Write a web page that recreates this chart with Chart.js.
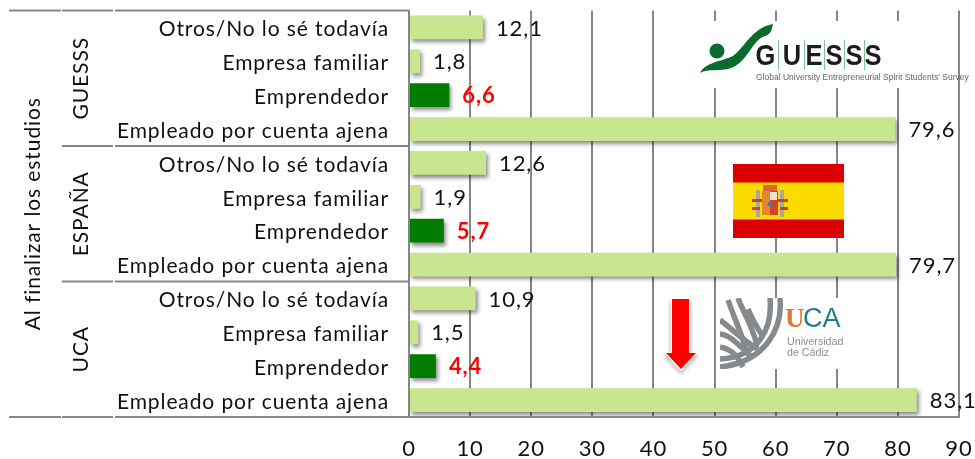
<!DOCTYPE html>
<html>
<head>
<meta charset="utf-8">
<title>Al finalizar los estudios</title>
<script src="https://cdn.jsdelivr.net/npm/chart.js@4"></script>
<style>
    html, body { margin: 0; padding: 0; background: #fff; }
    canvas { display: block; }
</style>
</head>
<body>
<canvas id="grafico" width="975" height="459"></canvas>
<script>
// Datos
const opciones = ['Otros/No lo sé todavía', 'Empresa familiar', 'Emprendedor', 'Empleado por cuenta ajena'];
const grupos = ['GUESSS', 'ESPAÑA', 'UCA'];
const valoresGuesss = [12.1, 1.8, 6.6, 79.6];
const valoresEspana = [12.6, 1.9, 5.7, 79.7];
const valoresUca = [10.9, 1.5, 4.4, 83.1];
const ticksX = [0, 10, 20, 30, 40, 50, 60, 70, 80, 90];
const tituloLateral = 'Al finalizar los estudios';

const categorias = [...opciones, ...opciones, ...opciones];
const valores = [...valoresGuesss, ...valoresEspana, ...valoresUca];

const GRIS = '#868686';
const FUENTE = 'Lato, "Open Sans", sans-serif';
const ESPACIADO = '0.9px';

const esDestacado = (i) => categorias[i] === 'Emprendedor';
const coma = (v) => v.toFixed(1).replace('.', ',');

// Letra espaciada, la fuente original es mas ancha
const espaciado = {
    id: 'espaciado',
    beforeDraw: (chart) => { chart.ctx.letterSpacing = ESPACIADO; }
};

// Sombra de las barras
const sombraBarras = {
    id: 'sombraBarras',
    beforeDatasetsDraw: (chart) => {
        const ctx = chart.ctx;
        ctx.save();
        ctx.shadowColor = 'rgba(0,0,0,0.45)';
        ctx.shadowBlur = 4;
        ctx.shadowOffsetX = 2;
        ctx.shadowOffsetY = 3;
    },
    afterDatasetsDraw: (chart) => chart.ctx.restore()
};

// Etiquetas de valor, a la derecha de cada barra
const etiquetasValor = {
    id: 'etiquetasValor',
    afterDatasetsDraw: (chart) => {
        const ctx = chart.ctx;
        const barras = chart.getDatasetMeta(0).data;
        ctx.save();
        ctx.textAlign = 'left';
        ctx.textBaseline = 'middle';
        barras.forEach((barra, i) => {
            const rojo = esDestacado(i);
            ctx.font = (rojo ? 'bold ' : '') + '22px ' + FUENTE;
            ctx.fillStyle = rojo ? '#ff0000' : '#111';
            ctx.fillText(coma(valores[i]), barra.x + 13, barra.y + 1);
        });
        ctx.restore();
    }
};

// Lineas de los grupos y textos girados de la izquierda
const ejeGrupos = {
    id: 'ejeGrupos',
    afterDraw: (chart) => {
        const ctx = chart.ctx;
        const y = chart.scales.y;
        const area = chart.chartArea;
        const porGrupo = opciones.length;
        ctx.save();
        ctx.strokeStyle = GRIS;
        ctx.lineWidth = 2;
        const linea = (x1, x2, yy) => {
            ctx.beginPath();
            ctx.moveTo(x1, yy);
            ctx.lineTo(x2, yy);
            ctx.stroke();
        };
        linea(9, 61, area.top);
        linea(62, 113, area.top);
        linea(115, area.left, area.top);
        linea(9, 61, area.bottom);
        linea(62, 113, area.bottom);
        linea(115, area.right, area.bottom);
        for (let g = 1; g < grupos.length; g++) {
            const yy = (y.getPixelForTick(g * porGrupo - 1) + y.getPixelForTick(g * porGrupo)) / 2;
            linea(62, 113, yy);
            linea(115, area.left, yy);
        }
        const girado = (texto, cx, cy) => {
            ctx.save();
            ctx.translate(cx, cy);
            ctx.rotate(-Math.PI / 2);
            ctx.textAlign = 'center';
            ctx.textBaseline = 'middle';
            ctx.fillStyle = '#111';
            ctx.font = '21px ' + FUENTE;
            ctx.fillText(texto, 0, 0);
            ctx.restore();
        };
        grupos.forEach((grupo, g) => {
            const cy = (y.getPixelForTick(g * porGrupo) + y.getPixelForTick(g * porGrupo + porGrupo - 1)) / 2;
            girado(grupo, 81, cy);
        });
        girado(tituloLateral, 33, (area.top + area.bottom) / 2);
        ctx.restore();
    }
};

function logoGuesss(ctx) {
    ctx.fillStyle = '#fff';
    ctx.fillRect(697, 21, 253, 67);
    ctx.fillStyle = '#0b6b2e';
    ctx.beginPath();
    ctx.arc(717, 51, 7.5, 0, Math.PI * 2);
    ctx.fill();
    ctx.beginPath();
    ctx.moveTo(700, 73);
    ctx.bezierCurveTo(706, 62, 720, 62, 733, 56);
    ctx.bezierCurveTo(746, 46, 752, 28, 773, 24);
    ctx.bezierCurveTo(772, 30, 770, 35, 765, 36);
    ctx.bezierCurveTo(752, 40, 748, 62, 731, 68);
    ctx.bezierCurveTo(720, 72, 708, 68, 700, 73);
    ctx.fill();
    // Letras en celdas con separador verde
    ctx.textAlign = 'center';
    ctx.textBaseline = 'middle';
    ctx.font = 'bold 30px "Liberation Sans"';
    ctx.letterSpacing = '0px';
    const centros = [765.5, 792, 814, 834, 854, 873];
    const separadores = [778, 804, 824, 844, 864];
    [...'GUESSS'].forEach((letra, i) => {
        ctx.save();
        ctx.translate(centros[i], 56.5);
        ctx.scale(0.85, 1);
        ctx.fillStyle = '#1c1c1c';
        ctx.fillText(letra, 0, 0);
        ctx.restore();
    });
    ctx.fillStyle = '#7fc39a';
    separadores.forEach((x) => ctx.fillRect(x, 40, 1, 30));
    ctx.textAlign = 'left';
    ctx.fillStyle = '#666';
    ctx.font = '8.5px "Liberation Sans"';
    ctx.fillText("Global University Entrepreneurial Spirit Students' Survey", 756, 78);
}

function bandera(ctx) {
    ctx.fillStyle = '#dc0000';
    ctx.fillRect(733, 164, 111, 74);
    ctx.fillStyle = '#fcdc00';
    ctx.fillRect(733, 182.5, 111, 37);
    // Escudo simplificado
    ctx.fillStyle = '#a9a9a0';
    ctx.fillRect(756, 190, 4, 27);
    ctx.fillRect(780, 190, 4, 27);
    ctx.fillStyle = '#c8402a';
    ctx.fillRect(752, 199, 10, 3);
    ctx.fillRect(778, 199, 10, 3);
    ctx.fillRect(752, 207, 8, 3);
    ctx.fillRect(780, 207, 8, 3);
    ctx.fillStyle = '#d9682a';
    ctx.fillRect(763, 185, 14, 6);
    ctx.fillStyle = '#e2872a';
    ctx.fillRect(762, 191, 8, 24);
    ctx.fillStyle = '#d6402c';
    ctx.fillRect(770, 191, 8, 24);
    ctx.fillStyle = '#e8e2d6';
    ctx.fillRect(770, 192, 7, 8);
    ctx.fillStyle = '#4c7f8c';
    ctx.beginPath();
    ctx.arc(770, 204, 2.5, 0, Math.PI * 2);
    ctx.fill();
}

function flecha(ctx) {
    ctx.save();
    ctx.shadowColor = 'rgba(0,0,0,0.45)';
    ctx.shadowBlur = 4;
    ctx.shadowOffsetY = 3;
    ctx.fillStyle = '#ff0000';
    ctx.strokeStyle = '#fff';
    ctx.lineWidth = 2;
    ctx.beginPath();
    ctx.moveTo(672, 299);
    ctx.lineTo(689, 299);
    ctx.lineTo(689, 353);
    ctx.lineTo(696, 353);
    ctx.lineTo(681, 369);
    ctx.lineTo(666, 353);
    ctx.lineTo(672, 353);
    ctx.closePath();
    ctx.stroke();
    ctx.shadowColor = 'transparent';
    ctx.fill();
    ctx.restore();
}

function logoUca(ctx) {
    ctx.fillStyle = '#fff';
    ctx.fillRect(720, 298, 124, 71);
    ctx.save();
    ctx.beginPath();
    ctx.rect(720, 298, 66, 71);
    ctx.clip();
    ctx.strokeStyle = '#868a8d';
    ctx.lineWidth = 5.5;
    const curvas = [
        [780, 298, 783, 329, 765, 362, 720, 367],
        [770, 298, 773, 329, 758, 357, 720, 359],
        [738, 298, 743, 312, 752, 325, 757, 345],
        [748, 309, 752, 319, 758, 329, 762, 335],
        [728, 300, 733, 315, 740, 329, 748, 355],
        [720, 320, 732, 329, 745, 342, 758, 349],
        [720, 334, 732, 335, 742, 349, 752, 357],
        [720, 347, 732, 349, 738, 357, 743, 367]
    ];
    curvas.forEach((c) => {
        ctx.beginPath();
        ctx.moveTo(c[0], c[1]);
        ctx.bezierCurveTo(c[2], c[3], c[4], c[5], c[6], c[7]);
        ctx.stroke();
    });
    ctx.restore();
    ctx.textAlign = 'left';
    ctx.textBaseline = 'middle';
    ctx.letterSpacing = '0px';
    ctx.font = 'bold 27px "Liberation Serif"';
    ctx.fillStyle = '#e07b28';
    ctx.fillText('U', 785, 320);
    ctx.font = '27px "Liberation Sans"';
    ctx.fillStyle = '#1f7a94';
    ctx.fillText('CA', 803, 320);
    ctx.fillStyle = '#8c8f91';
    ctx.font = '10.7px "Liberation Sans"';
    ctx.fillText('Universidad', 787, 342);
    ctx.fillText('de Cádiz', 787, 353);
}

// Logos, bandera y flecha encima de la cuadricula
const adornos = {
    id: 'adornos',
    afterDraw: (chart) => {
        const ctx = chart.ctx;
        [logoGuesss, bandera, flecha, logoUca].forEach((dibujar) => {
            ctx.save();
            dibujar(ctx);
            ctx.restore();
        });
    }
};

new Chart(document.getElementById('grafico'), {
    type: 'bar',
    data: {
        labels: categorias,
        datasets: [{
            data: valores,
            backgroundColor: categorias.map((c, i) => esDestacado(i) ? '#007c00' : '#c8e590'),
            borderWidth: 0,
            categoryPercentage: 1,
            barPercentage: 0.7
        }]
    },
    options: {
        indexAxis: 'y',
        responsive: false,
        animation: false,
        layout: { padding: { top: 10.5, right: 16, bottom: 0, left: 0 } },
        plugins: {
            legend: { display: false },
            title: { display: false },
            tooltip: { enabled: false }
        },
        scales: {
            x: {
                min: 0,
                max: 90,
                afterBuildTicks: (eje) => { eje.ticks = ticksX.map(v => ({ value: v })); },
                afterFit: (eje) => {
                    eje.height = 42;
                    eje.paddingLeft = 0;
                    eje.paddingRight = 0;
                },
                grid: { color: GRIS, lineWidth: 2, drawTicks: false },
                border: { color: GRIS, width: 2 },
                ticks: {
                    color: '#111',
                    font: { family: FUENTE, size: 22 },
                    padding: 19,
                    maxRotation: 0
                }
            },
            y: {
                afterFit: (eje) => {
                    eje.width = 409;
                    eje.paddingTop = 0;
                    eje.paddingBottom = 0;
                },
                grid: { display: false, drawTicks: false },
                border: { color: GRIS, width: 2 },
                ticks: {
                    color: '#111',
                    font: { family: FUENTE, size: 21 },
                    padding: 20,
                    labelOffset: 2,
                    autoSkip: false
                }
            }
        }
    },
    plugins: [espaciado, sombraBarras, etiquetasValor, ejeGrupos, adornos]
});
</script>
</body>
</html>
